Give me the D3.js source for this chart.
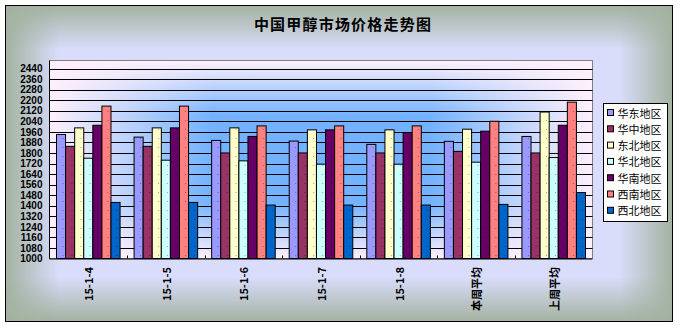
<!DOCTYPE html>
<html>
<head>
<meta charset="utf-8">
<script src="https://cdn.jsdelivr.net/npm/d3@7/dist/d3.min.js"></script>
<style>
  html, body { margin: 0; padding: 0; background: #ffffff; }
  svg { display: block; }
</style>
</head>
<body>
<svg id="chart" width="681" height="328"></svg>
<script>
// Categories along the x axis
const categories = ["15-1-4", "15-1-5", "15-1-6", "15-1-7", "15-1-8", "本周平均", "上周平均"];
// Regions (one bar series each)
const regions = ["华东地区", "华中地区", "东北地区", "华北地区", "华南地区", "西南地区", "西北地区"];
// Price per region, one value per category
const huadong  = [1940, 1920, 1895, 1890, 1865, 1888, 1925];
const huazhong = [1850, 1850, 1800, 1800, 1800, 1812, 1800];
const dongbei  = [1990, 1990, 1990, 1975, 1975, 1980, 2110];
const huabei   = [1760, 1745, 1740, 1715, 1715, 1730, 1765];
const huanan   = [2010, 1990, 1925, 1975, 1955, 1965, 2010];
const xinan    = [2155, 2155, 2005, 2005, 2005, 2040, 2185];
const xibei    = [1425, 1425, 1405, 1405, 1405, 1410, 1500];
const seriesValues = [huadong, huazhong, dongbei, huabei, huanan, xinan, xibei];
// Value axis tick labels
const yTicks = [1000, 1080, 1160, 1240, 1320, 1400, 1480, 1560, 1640, 1720, 1800,
                1880, 1960, 2040, 2120, 2200, 2280, 2360, 2440];
const colors = ["#9999ff", "#993366", "#ffffcc", "#ccffff", "#660066", "#ff8080", "#0066cc"];

const svg = d3.select("#chart");
const defs = svg.append("defs");

// Helper: edge-to-centre fade built from two overlaid linear gradients
function edgeFade(id, color, horizontal, inner) {
  const g = defs.append("linearGradient").attr("id", id)
    .attr("x1", 0).attr("y1", 0)
    .attr("x2", horizontal ? 1 : 0).attr("y2", horizontal ? 0 : 1);
  [[0, 1], [inner, 0], [1 - inner, 0], [1, 1]].forEach(([o, a]) => {
    g.append("stop").attr("offset", o).attr("stop-color", color).attr("stop-opacity", a);
  });
}
edgeFade("outerH", "#a3b2a0", true, 0.08);
edgeFade("outerV", "#a3b2a0", false, 0.14);
edgeFade("plotH", "#fff0fb", true, 0.30);
edgeFade("plotV", "#fff0fb", false, 0.28);

// Sparse dot texture used on the bars
const dots = defs.append("pattern").attr("id", "dots")
  .attr("patternUnits", "userSpaceOnUse").attr("width", 9).attr("height", 9);
dots.append("rect").attr("x", 4).attr("y", 3).attr("width", 1).attr("height", 1)
  .attr("fill", "rgba(0,0,0,0.35)");

// Chart area background
const outer = { x: 5.5, y: 5.5, w: 667, h: 316 };
svg.append("rect").attr("x", outer.x).attr("y", outer.y).attr("width", outer.w).attr("height", outer.h)
  .attr("fill", "#d9ddfb");
svg.append("rect").attr("x", outer.x).attr("y", outer.y).attr("width", outer.w).attr("height", outer.h)
  .attr("fill", "url(#outerH)");
svg.append("rect").attr("x", outer.x).attr("y", outer.y).attr("width", outer.w).attr("height", outer.h)
  .attr("fill", "url(#outerV)");
svg.append("rect").attr("x", outer.x).attr("y", outer.y).attr("width", outer.w).attr("height", outer.h)
  .attr("fill", "none").attr("stroke", "#000").attr("stroke-width", 1);

// Title
svg.append("text").attr("x", 343).attr("y", 23)
  .attr("text-anchor", "middle").attr("dominant-baseline", "central")
  .attr("font-family", "'Noto Sans CJK SC', sans-serif").attr("font-weight", "bold")
  .attr("font-size", 15).attr("letter-spacing", 1.2)
  .text("中国甲醇市场价格走势图");

// Plot area
const plot = { left: 49.5, right: 592.5, top: 60.5 };
const y = d3.scaleLinear().domain([1000, 2440]).range([258.5, 68.5]);
const x0 = d3.scaleBand().domain(categories).range([plot.left, plot.right]);
const x1 = d3.scaleBand().domain(regions).range([7, x0.bandwidth() - 7]);

const plotH = y(1000) - plot.top;
const plotW = plot.right - plot.left;
svg.append("rect").attr("x", plot.left).attr("y", plot.top).attr("width", plotW).attr("height", plotH)
  .attr("fill", "#72b2ff");
svg.append("rect").attr("x", plot.left).attr("y", plot.top).attr("width", plotW).attr("height", plotH)
  .attr("fill", "url(#plotH)");
svg.append("rect").attr("x", plot.left).attr("y", plot.top).attr("width", plotW).attr("height", plotH)
  .attr("fill", "url(#plotV)");
svg.append("rect").attr("x", plot.left).attr("y", plot.top).attr("width", plotW).attr("height", plotH)
  .attr("fill", "none").attr("stroke", "#808080");

// Horizontal gridlines
svg.append("g").selectAll("line").data(yTicks.slice(1)).join("line")
  .attr("x1", plot.left).attr("x2", plot.right)
  .attr("y1", d => Math.round(y(d)) + 0.5).attr("y2", d => Math.round(y(d)) + 0.5)
  .attr("stroke", "#000").attr("stroke-width", 1);

// Bars
const groups = svg.append("g").selectAll("g").data(categories).join("g")
  .attr("transform", c => `translate(${x0(c)},0)`);
groups.each(function (c, ci) {
  const g = d3.select(this);
  const bars = regions.map((r, ri) => ({ r, ri, v: seriesValues[ri][ci] }));
  g.selectAll("rect.bar").data(bars).join("rect").attr("class", "bar")
    .attr("x", d => x1(d.r)).attr("width", x1.bandwidth())
    .attr("y", d => y(d.v)).attr("height", d => y(1000) - y(d.v))
    .attr("fill", d => colors[d.ri]).attr("stroke", "#000").attr("stroke-width", 1);
  g.selectAll("rect.tex").data(bars).join("rect").attr("class", "tex")
    .attr("x", d => x1(d.r)).attr("width", x1.bandwidth())
    .attr("y", d => y(d.v)).attr("height", d => y(1000) - y(d.v))
    .attr("fill", "url(#dots)");
});

// Value axis
const yAxis = d3.axisLeft(y).tickValues(yTicks).tickSize(0).tickPadding(7).tickFormat(d3.format("d"));
const yg = svg.append("g").attr("transform", `translate(${plot.left},0)`).call(yAxis);
yg.select(".domain").remove();
yg.selectAll("text").attr("font-family", "'Liberation Sans', Arial, sans-serif")
  .attr("font-weight", "bold").attr("font-size", 10).attr("fill", "#000");
svg.append("line").attr("x1", plot.left).attr("x2", plot.left)
  .attr("y1", plot.top).attr("y2", y(1000)).attr("stroke", "#000");

// Category axis
svg.append("line").attr("x1", plot.left).attr("x2", plot.right)
  .attr("y1", y(1000) + 0.5).attr("y2", y(1000) + 0.5).attr("stroke", "#000");
svg.append("g").selectAll("line").data(categories.slice(1)).join("line")
  .attr("x1", c => Math.round(x0(c)) + 0.5).attr("x2", c => Math.round(x0(c)) + 0.5)
  .attr("y1", y(1000) - 3).attr("y2", y(1000)).attr("stroke", "#000");
svg.append("g").selectAll("text").data(categories).join("text")
  .attr("transform", c => `translate(${x0(c) + x0.bandwidth() / 2},267) rotate(-90)`)
  .attr("text-anchor", "end").attr("dominant-baseline", "central")
  .attr("font-family", "'Noto Sans CJK SC', sans-serif").attr("font-weight", "bold")
  .attr("font-size", 11).text(c => c);

// Legend
const lg = svg.append("g").attr("transform", "translate(603.5,103.5)");
lg.append("rect").attr("width", 64).attr("height", 118)
  .attr("fill", "#ffffff").attr("stroke", "#000");
const items = lg.selectAll("g").data(regions).join("g")
  .attr("transform", (d, i) => `translate(0,${9 + i * 16.3})`);
items.append("rect").attr("x", 4).attr("y", -3).attr("width", 6).attr("height", 6)
  .attr("fill", (d, i) => colors[i]).attr("stroke", "#000");
items.append("text").attr("x", 14).attr("y", 0).attr("dominant-baseline", "central")
  .attr("font-family", "'Noto Sans CJK SC', sans-serif").attr("font-size", 11)
  .text(d => d);
</script>
</body>
</html>
